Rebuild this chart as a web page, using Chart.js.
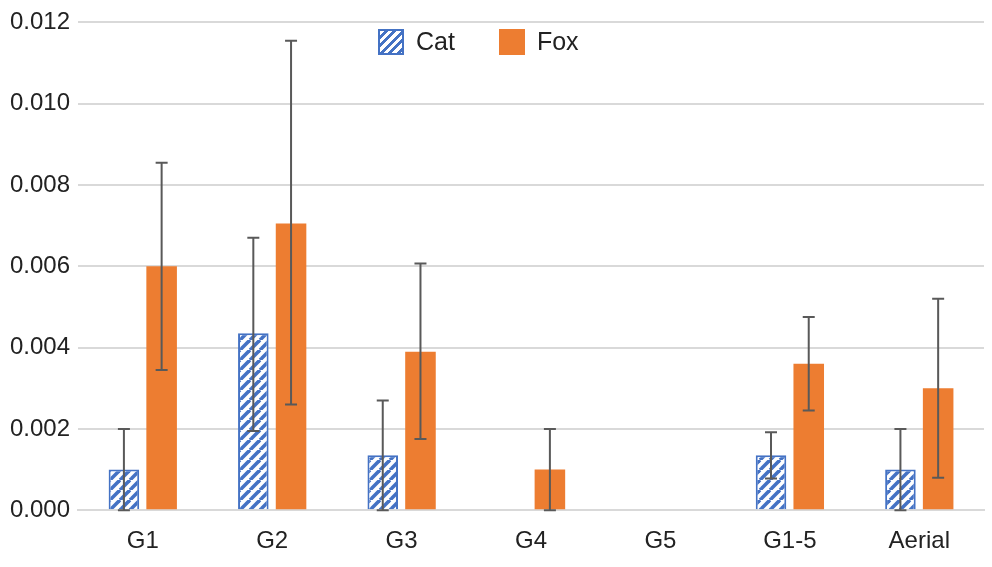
<!DOCTYPE html>
<html><head><meta charset="utf-8">
<script src="https://cdn.jsdelivr.net/npm/chart.js@4/dist/chart.umd.min.js"></script>
<style>
body{margin:0;background:#fff;font-family:"Liberation Sans",Arial,sans-serif}
#wrap{position:relative;width:992px;height:567px}
#legend{position:absolute;left:378px;top:27px;font-size:25px;color:#222;display:flex;align-items:center}
.sw{display:inline-block;width:26px;height:26px;box-sizing:border-box;margin-right:12px}
#cat{border:2px solid #4472C4;background:repeating-linear-gradient(135deg,#fff 0 3px,#4472C4 3px 6px)}
#fox{background:#ED7D31}
</style></head><body>
<div id="wrap"><canvas id="c" width="992" height="567"></canvas>
<div id="legend"><span class="sw" id="cat"></span><span style="margin-right:44px">Cat</span><span class="sw" id="fox"></span><span>Fox</span></div></div>
<script>
const categories=["G1","G2","G3","G4","G5","G1-5","Aerial"];
const catValues=[0.001,0.00435,0.00135,null,null,0.00135,0.001];
const catLow=[0,0.00195,0,null,null,0.00078,0];
const catHigh=[0.002,0.0067,0.0027,null,null,0.00192,0.002];
const foxValues=[0.006,0.00705,0.0039,0.001,null,0.0036,0.003];
const foxLow=[0.00345,0.0026,0.00175,0,null,0.00245,0.0008];
const foxHigh=[0.00855,0.01155,0.00607,0.002,null,0.00475,0.0052];
const yTicks=[0,0.002,0.004,0.006,0.008,0.010,0.012];

const pc=document.createElement('canvas');pc.width=10;pc.height=10;
const p=pc.getContext('2d');p.fillStyle='#fff';p.fillRect(0,0,10,10);
p.strokeStyle='#4472C4';p.lineWidth=3.6;
for(let o=-10;o<=20;o+=10){p.beginPath();p.moveTo(o,10);p.lineTo(o+10,0);p.stroke();}
const pat=document.getElementById('c').getContext('2d').createPattern(pc,'repeat');

const errPlugin={id:'err',afterDatasetsDraw(ch){
 const ctx=ch.ctx,y=ch.scales.y;
 [[0,catLow,catHigh],[1,foxLow,foxHigh]].forEach(([di,lo,hi])=>{
  ch.getDatasetMeta(di).data.forEach((b,i)=>{
   if(lo[i]==null)return;
   const x=b.x,y1=y.getPixelForValue(lo[i]),y2=y.getPixelForValue(hi[i]);
   ctx.save();ctx.strokeStyle='#595959';ctx.lineWidth=2;ctx.beginPath();
   ctx.moveTo(x,y1);ctx.lineTo(x,y2);ctx.moveTo(x-6,y1);ctx.lineTo(x+6,y1);
   ctx.moveTo(x-6,y2);ctx.lineTo(x+6,y2);ctx.stroke();ctx.restore();
  });});}};

new Chart(document.getElementById('c'),{type:'bar',
 data:{labels:categories,datasets:[
  {label:'Cat',data:catValues,backgroundColor:pat,borderColor:'#4472C4',borderWidth:2},
  {label:'Fox',data:foxValues,backgroundColor:'#ED7D31'}]},
 options:{responsive:false,animation:false,
  categoryPercentage:0.583,barPercentage:0.81,
  layout:{padding:{top:3,right:8,left:2,bottom:2}},
  plugins:{legend:{display:false},tooltip:{enabled:false}},
  scales:{
   x:{grid:{display:false},border:{color:'#d9d9d9',width:2},
      ticks:{color:'#222',font:{size:24,family:'Liberation Sans'},padding:9}},
   y:{min:0,max:0.012,afterBuildTicks:a=>{a.ticks=yTicks.map(v=>({value:v}))},
      grid:{color:'#d9d9d9',lineWidth:2,drawTicks:false},border:{display:false},
      ticks:{color:'#222',font:{size:24,family:'Liberation Sans'},padding:8,callback:v=>v.toFixed(3)}}}},
 plugins:[errPlugin]});
</script></body></html>
